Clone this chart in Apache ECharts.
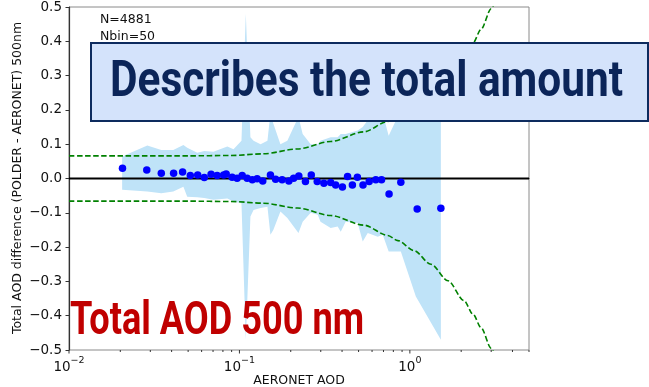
<!DOCTYPE html>
<html><head><meta charset="utf-8">
<script src="https://cdn.jsdelivr.net/npm/echarts@6/dist/echarts.min.js"></script>
<style>html,body{margin:0;padding:0;background:#fff}#c{width:649px;height:387px}</style>
</head><body><div id="c"></div>
<script>
// ---- data ----
const binAOD = [0.0206,0.0286,0.0348,0.0411,0.0464,0.0515,0.0569,0.0622,0.0682,0.074,0.0808,0.0836,0.0906,0.0969,0.1038,0.111,0.119,0.127,0.137,0.152,0.163,0.178,0.195,0.208,0.223,0.244,0.264,0.286,0.313,0.343,0.367,0.402,0.431,0.46,0.492,0.531,0.577,0.631,0.682,0.755,0.885,1.104,1.52];
const binDiff = [0.030,0.025,0.0155,0.0155,0.019,0.0085,0.0105,0.0026,0.0125,0.0085,0.0105,0.0134,0.0038,0.001,0.0085,0.001,-0.004,-0.001,-0.007,0.0105,-0.002,-0.004,-0.007,0.001,0.0076,-0.009,0.0105,-0.009,-0.0137,-0.012,-0.0187,-0.025,0.006,-0.0187,0.004,-0.019,-0.009,-0.004,-0.004,-0.045,-0.011,-0.089,-0.087];

const bandAOD   = [0.0205,0.0288,0.0348,0.0409,0.0469,0.0494,0.0566,0.0622,0.0703,0.0849,0.0923,0.1028,0.109,0.116,0.121,0.133,0.146,0.152,0.158,0.174,0.191,0.222,0.235,0.262,0.288,0.299,0.343,0.377,0.393,0.420,0.494,0.529,0.566,0.648,0.693,0.751,0.885,1.084,1.52];
const bandUpper = [0.064,0.096,0.083,0.083,0.098,0.09,0.075,0.08,0.078,0.093,0.085,0.11,0.48,0.12,0.11,0.10,0.11,0.19,0.16,0.10,0.11,0.18,0.13,0.10,0.10,0.11,0.12,0.12,0.13,0.13,0.14,0.15,0.17,0.18,0.19,0.125,0.20,0.20,0.30];
const bandLower = [-0.033,-0.038,-0.043,-0.038,-0.024,-0.053,-0.055,-0.057,-0.062,-0.058,-0.067,-0.072,-0.47,-0.111,-0.092,-0.086,-0.082,-0.164,-0.15,-0.096,-0.115,-0.159,-0.126,-0.1,-0.106,-0.126,-0.144,-0.14,-0.155,-0.126,-0.13,-0.184,-0.159,-0.17,-0.164,-0.213,-0.213,-0.344,-0.47];

const envAOD  = [0.01,0.05,0.0885,0.138,0.219,0.343,0.536,0.743,0.85,1.056,1.33,1.673,2.078,2.35,2.616,3.0,3.2];
const envHalf = [0.066,0.066,0.067,0.072,0.086,0.108,0.136,0.166,0.181,0.21,0.25,0.298,0.356,0.396,0.435,0.495,0.525];

const xMajorTicks = [0.01,0.1,1];
const xTickExponents = ['\u22122','\u22121','0'];
const xMinorTicks = [0.02,0.03,0.04,0.05,0.06,0.07,0.08,0.09,0.2,0.3,0.4,0.5,0.6,0.7,0.8,0.9,2,3,4,5];
const nText = 'N=4881';
const nbinText = 'Nbin=50';

// ---- chart ----
const FONT = 'DejaVu Sans';
const chart = echarts.init(document.getElementById('c'), null, {renderer:'canvas'});

function measure(text, font){
  const cv = document.createElement('canvas').getContext('2d');
  cv.font = font; return cv.measureText(text).width;
}
const boxText = 'Describes the total amount';
const redText = 'Total AOD 500 nm';
const boxFont = '700 50px Roboto';
const redFont = '700 46px Roboto';
const boxScale = 513 / measure(boxText, boxFont);
const redScale = 294 / measure(redText, redFont);

function tickSeries(vals, len){
  return {
    type:'custom', silent:true, z:5, clip:false,
    data: vals.map(v=>[v,-0.5]),
    encode:{x:0,y:1},
    renderItem:(params, api)=>{
      const p = api.coord([api.value(0), -0.5]);
      return {type:'line', shape:{x1:p[0],y1:p[1],x2:p[0],y2:p[1]+len}, style:{stroke:'#333',lineWidth:1}};
    }
  };
}

chart.setOption({
  animation:false,
  grid:{left:69,right:120,top:7,bottom:37,show:true,borderColor:'#8a8a8a',borderWidth:1,backgroundColor:'transparent'},
  xAxis:{
    type:'log', logBase:10, min:0.01, max:5,
    axisLine:{show:true,lineStyle:{color:'#333',width:1.2}},
    axisTick:{show:false},
    splitLine:{show:false},
    axisLabel:{
      margin:6, showMinLabel:true, showMaxLabel:false,
      formatter:(v)=>{
        const i = xMajorTicks.findIndex(t=>Math.abs(Math.log10(t)-Math.log10(v))<1e-6);
        if(i<0) return '';
        return '{b|10}{s|'+xTickExponents[i]+'}';
      },
      rich:{
        b:{fontFamily:FONT,fontSize:13.5,color:'#111',lineHeight:18,verticalAlign:'bottom'},
        s:{fontFamily:FONT,fontSize:9.5,color:'#111',lineHeight:18,verticalAlign:'top'}
      }
    }
  },
  yAxis:{
    type:'value', min:-0.5, max:0.5, interval:0.1,
    axisLine:{show:true,lineStyle:{color:'#333',width:1.2}},
    axisTick:{show:true,length:3.5,lineStyle:{color:'#333'}},
    splitLine:{show:false},
    axisLabel:{margin:7,fontFamily:FONT,fontSize:13.5,color:'#111',
      formatter:(v)=>{const s=Math.abs(v)<1e-9?'0.0':v.toFixed(1);return s.replace('-','\u2212');}}
  },
  series:[
    {type:'line', data:bandAOD.map((x,i)=>[x,bandUpper[i]]), showSymbol:false, symbol:'none',
     lineStyle:{width:0}, areaStyle:{color:'#bfe3f8',opacity:1}, z:1, silent:true},
    {type:'line', data:bandAOD.map((x,i)=>[x,bandLower[i]]), showSymbol:false, symbol:'none',
     lineStyle:{width:0}, areaStyle:{color:'#bfe3f8',opacity:1}, z:1, silent:true},
    {type:'line', data:envAOD.map((x,i)=>[x,envHalf[i]]), symbol:'none', smooth:0.3, smoothMonotone:'x',
     lineStyle:{color:'#008000',width:1.6,type:[5.5,2.6]}, z:2, silent:true},
    {type:'line', data:envAOD.map((x,i)=>[x,-envHalf[i]]), symbol:'none', smooth:0.3, smoothMonotone:'x',
     lineStyle:{color:'#008000',width:1.6,type:[5.5,2.6]}, z:2, silent:true},
    {type:'line', data:[[0.01,0],[5,0]], symbol:'none', lineStyle:{color:'#000',width:1.8}, z:3, silent:true},
    {type:'scatter', data:binAOD.map((x,i)=>[x,binDiff[i]]), symbol:'circle', symbolSize:7.5,
     itemStyle:{color:'#0000ff',opacity:1}, z:4, silent:true},
    tickSeries(xMajorTicks, 3.5),
    tickSeries(xMinorTicks, 2)
  ],
  graphic:[
    {type:'text', x:100, y:20, style:{text:nText, font:'12.5px "DejaVu Sans"', fill:'#111', verticalAlign:'middle', align:'left'}, z:10},
    {type:'text', x:100, y:37, style:{text:nbinText, font:'12.5px "DejaVu Sans"', fill:'#111', verticalAlign:'middle', align:'left'}, z:10},
    {type:'text', x:18, y:178, rotation:Math.PI/2, style:{text:'Total AOD difference (POLDER - AERONET) 500nm', font:'12.5px "DejaVu Sans"', fill:'#111', verticalAlign:'middle', align:'center'}, z:10},
    {type:'text', x:299, y:381, style:{text:'AERONET AOD', font:'12.5px "DejaVu Sans"', fill:'#111', verticalAlign:'middle', align:'center'}, z:10},
    {type:'rect', shape:{x:91,y:43,width:557,height:78}, style:{fill:'#d4e3fb',stroke:'#0d2b5e',lineWidth:2}, z:20},
    {type:'group', x:110, y:83, scaleX:boxScale, z:21, children:[
      {type:'text', x:0, y:0, style:{text:boxText, font:boxFont, fill:'#0b2559', verticalAlign:'middle', align:'left'}, z:21}
    ]},
    {type:'group', x:70, y:322, scaleX:redScale, z:21, children:[
      {type:'text', x:0, y:0, style:{text:redText, font:redFont, fill:'#c00000', verticalAlign:'middle', align:'left'}, z:21}
    ]}
  ]
});
</script></body></html>
